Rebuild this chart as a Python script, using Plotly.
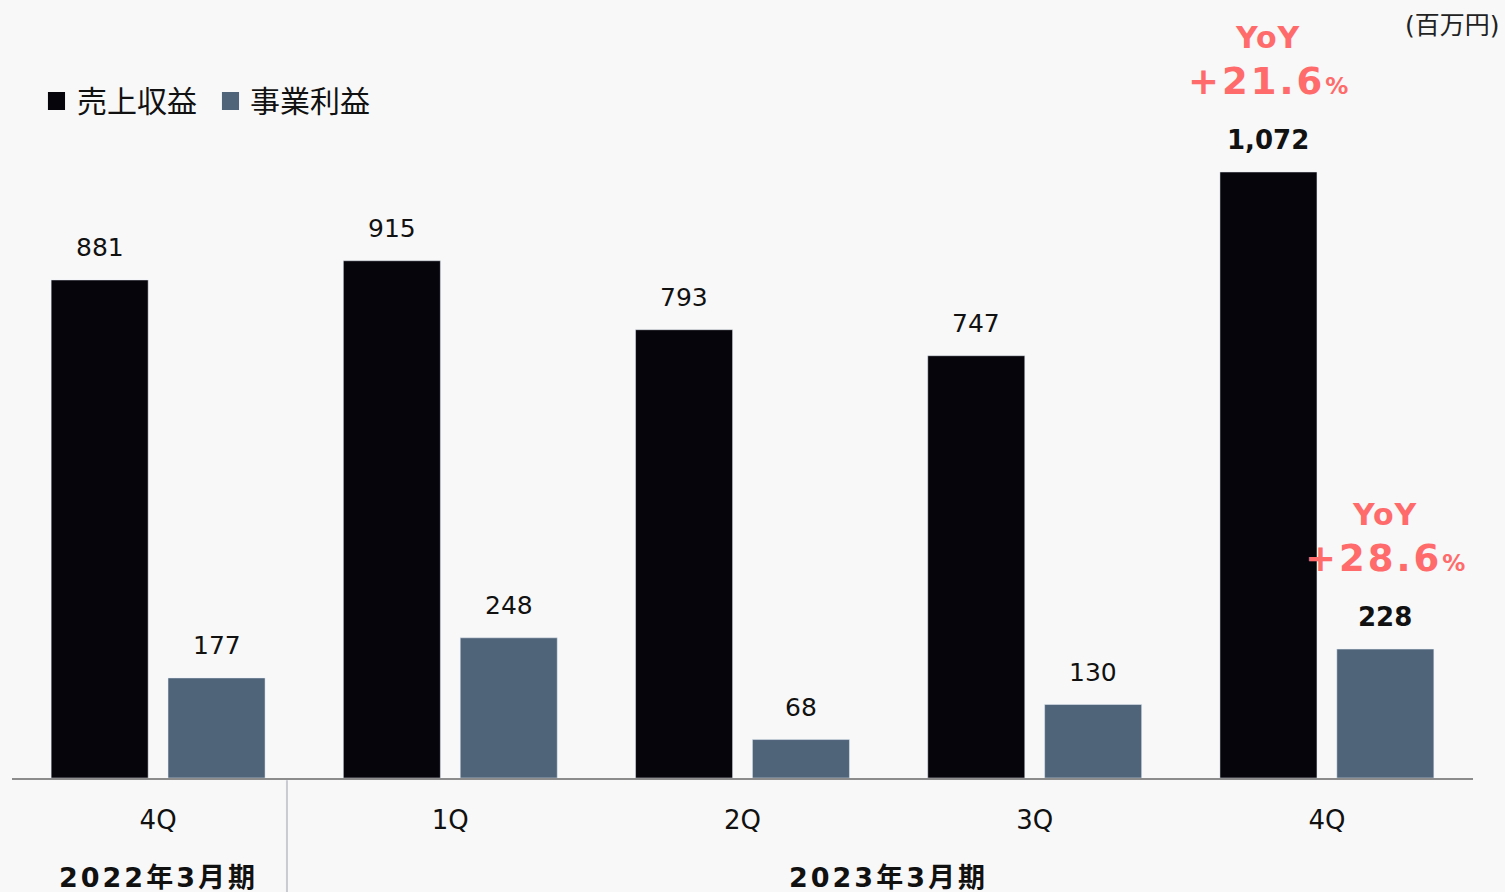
import plotly.graph_objects as go

quarters = ["4Q", "1Q", "2Q", "3Q", "4Q"]
fiscal_years = ["2022年3月期", "2023年3月期"]
fy_span = [[0, 0], [1, 4]]
revenue = [881, 915, 793, 747, 1072]
op_profit = [177, 248, 68, 130, 228]
series_names = ["売上収益", "事業利益"]
yoy_revenue = "+21.6"
yoy_profit = "+28.6"
unit_label = "(百万円)"

C_REV = "#07050c"
C_OP = "#4f6379"
C_YOY = "#ff6b6b"
BG = "#f8f8f8"
FONT = "DejaVu Sans, Noto Sans CJK JP, sans-serif"

x = list(range(len(quarters)))
W = 0.332

fig = go.Figure()
fig.add_bar(x=x, y=revenue, name=series_names[0], marker_color=C_REV,
            width=W, offset=-0.366, showlegend=False)
fig.add_bar(x=x, y=op_profit, name=series_names[1], marker_color=C_OP,
            width=W, offset=0.034, showlegend=False)

ann = []
last = len(x) - 1
for i in x:
    for vals, xo in ((revenue, -0.2), (op_profit, 0.2)):
        bold = i == last
        ann.append(dict(x=i + xo, y=vals[i], xref="x", yref="y",
                        text=(f"<b>{vals[i]:,}</b>" if bold else f"{vals[i]:,}"),
                        showarrow=False, yanchor="middle", yshift=32,
                        font=dict(size=26 if bold else 25, color="#111111", family=FONT)))

for vals, xo, yoy in ((revenue, -0.2, yoy_revenue), (op_profit, 0.2, yoy_profit)):
    ann.append(dict(x=last + xo, y=vals[last], xref="x", yref="y",
                    text="<b><span style='letter-spacing:1px'>YoY</span></b>",
                    showarrow=False, yanchor="middle", yshift=135,
                    font=dict(size=30, color=C_YOY, family=FONT)))
    ann.append(dict(x=last + xo, y=vals[last], xref="x", yref="y",
                    text=f"<b><span style='letter-spacing:3px'>{yoy}</span></b>"
                         f"<b><span style='font-size:23px'>%</span></b>",
                    showarrow=False, yanchor="middle", yshift=91,
                    font=dict(size=37, color=C_YOY, family=FONT)))

for name, (a, b) in zip(fiscal_years, fy_span):
    ann.append(dict(x=(a + b) / 2, y=0, xref="x", yref="paper",
                    text=f"<b><span style='letter-spacing:3px'>{name}</span></b>",
                    showarrow=False, yanchor="middle", yshift=-99,
                    font=dict(size=27, color="#111111", family=FONT)))

ann.append(dict(x=1, y=1, xref="paper", yref="paper", text=unit_label, showarrow=False,
                xanchor="right", yanchor="middle", xshift=29, yshift=15,
                font=dict(size=25, color="#222222", family=FONT)))

# legend (manual)
leg_y = 0.917
ann.append(dict(x=0.0430, y=leg_y, xref="paper", yref="paper", text=series_names[0],
                showarrow=False, xanchor="left", yanchor="middle",
                font=dict(size=30, color="#111111", family=FONT)))
ann.append(dict(x=0.1615, y=leg_y, xref="paper", yref="paper", text=series_names[1],
                showarrow=False, xanchor="left", yanchor="middle",
                font=dict(size=30, color="#111111", family=FONT)))

shapes = [
    dict(type="rect", xref="paper", yref="paper", x0=0.0246, x1=0.0363,
         y0=(778 - 110) / 738, y1=(778 - 92) / 738, fillcolor=C_REV, line_width=0),
    dict(type="rect", xref="paper", yref="paper", x0=0.1437, x1=0.1554,
         y0=(778 - 110) / 738, y1=(778 - 92) / 738, fillcolor=C_OP, line_width=0),
    dict(type="line", xref="x", yref="paper", x0=0.441, x1=0.441, y0=-0.003, y1=-0.16,
         line=dict(color="#c9cad2", width=2)),
]

fig.update_layout(
    width=1505, height=892,
    margin=dict(l=12, r=32, t=40, b=114),
    paper_bgcolor=BG, plot_bgcolor=BG,
    annotations=ann, shapes=shapes,
    font=dict(family=FONT, color="#111111"),
    showlegend=False,
)
fig.update_xaxes(range=[-0.5, 4.5], tickvals=x, ticktext=quarters, showgrid=False,
                 zeroline=False, showline=True, linecolor="#8c8c8c", linewidth=2,
                 ticks="", ticklabelstandoff=18, tickfont=dict(size=26, color="#111111"))
fig.update_yaxes(range=[0, 1305.5], visible=False, showgrid=False)

fig.write_html(
    "out.html",
    config={"displayModeBar": False},
    post_script="document.body.style.margin='0';document.body.style.overflow='hidden';"
                "document.body.style.background='#f8f8f8';",
)
